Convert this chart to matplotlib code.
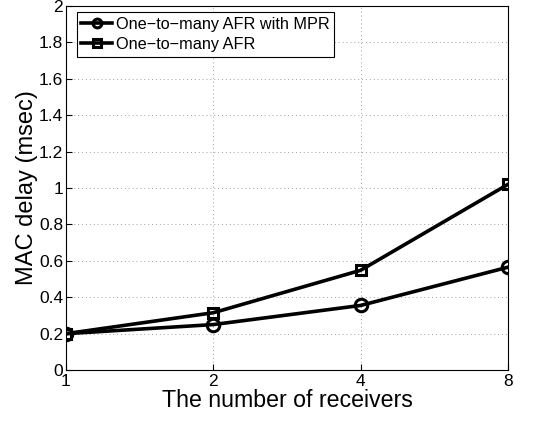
import matplotlib
matplotlib.use('Agg')
import matplotlib.pyplot as plt

receivers = ['1', '2', '4', '8']
afr_mpr = [0.2, 0.25, 0.355, 0.565]
afr = [0.2, 0.315, 0.548, 1.02]

plt.rcParams['font.family'] = ['Liberation Sans', 'DejaVu Sans']

fig = plt.figure(figsize=(5.45, 4.22), dpi=100)
ax = fig.add_axes([0.121, 0.123, 0.811, 0.863])

x = range(len(receivers))
ax.plot(x, afr_mpr, color='black', lw=2.6, marker='o', ms=9, mfc='none', mew=2.2,
        label='One\u2212to\u2212many AFR with MPR')
ax.plot(x, afr, color='black', lw=2.6, marker='s', ms=7.5, mfc='none', mew=2.2,
        label='One\u2212to\u2212many AFR')

ax.set_xlim(0, 3)
ax.set_ylim(0, 2)
ax.set_xticks(list(x))
ax.set_xticklabels(receivers)
ax.set_yticks([i * 0.2 for i in range(11)])
ax.set_yticklabels(['0', '0.2', '0.4', '0.6', '0.8', '1', '1.2', '1.4', '1.6', '1.8', '2'])
ax.tick_params(direction='in', labelsize=12.5, length=4, pad=1)
ax.tick_params(axis='x', pad=3)
ax.tick_params(axis='y', pad=2)
ax.grid(True, linestyle=(0, (1, 3)), color='#a0a0a0', lw=0.7)
for s in ax.spines.values():
    s.set_linewidth(0.8)

ax.set_xlabel('The number of receivers', fontsize=16.7, labelpad=0)
ax.set_ylabel('MAC delay (msec)', fontsize=17, labelpad=1)

leg = ax.legend(loc='upper left', fontsize=11.7, handlelength=1.9, handletextpad=0.2,
                borderpad=0.3, labelspacing=0.3, fancybox=False, framealpha=1,
                markerscale=0.7, bbox_to_anchor=(0.024, 0.983), borderaxespad=0)
leg.get_frame().set_edgecolor('black')
leg.get_frame().set_linewidth(0.8)

fig.savefig('out.png', dpi=100)
